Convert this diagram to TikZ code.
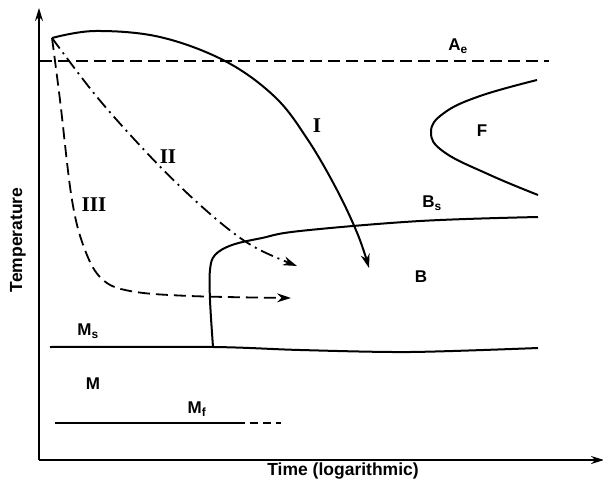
\documentclass[tikz,border=0pt]{standalone}
\usepackage{fontspec}
\setmainfont{Liberation Sans}
\newfontfamily\numfont{Liberation Serif}
\usetikzlibrary{arrows.meta}
\begin{document}
\begin{tikzpicture}[x=1pt,y=-1pt,
  curve/.style={line width=2pt,line join=round},
  dashcurve/.style={line width=1.8pt,dash pattern=on 12pt off 6pt},
  dashdotcurve/.style={line width=1.8pt,dash pattern=on 13pt off 5pt on 2pt off 5pt},
  tip/.style={-{Stealth[length=14pt,width=9pt]}},
  lab/.style={font=\bfseries\fontsize{17}{19}\selectfont},
  axlab/.style={font=\bfseries\fontsize{17.5}{19}\selectfont},
  rom/.style={font=\numfont\bfseries\fontsize{21}{23}\selectfont}]
\useasboundingbox (0,0) rectangle (603,485);
% axes
\coordinate (O) at (39,460);
\coordinate (Ytop) at (39,8);
\coordinate (Xend) at (604,460);
\draw[line width=1.8pt,-{Stealth[length=13pt,width=8pt]}] (O) -- (Ytop);
\draw[line width=1.8pt,-{Stealth[length=13pt,width=8pt]}] (O) -- (Xend);
\node[axlab,rotate=90] (tlab) at (18,240) {Temperature};
\node[axlab] (xlab) at (343,471) {Time (logarithmic)};
% Ae
\coordinate (Ae1) at (40,61);
\coordinate (Ae2) at (549,61);
\draw[dashcurve] (Ae1) -- (Ae2);
\node[lab] (Ae) at (458,46) {A\textsubscript{e}};
% start point
\coordinate (S) at (52,38);
% curve I
\draw[curve,tip] plot[smooth,tension=0.6] coordinates {(52,38) (95,31) (160,37) (225,61) (275,97) (308,140) (337,190) (358,235) (369,268)};
\node[rom] (I) at (317,126) {I};
% curve II
\draw[dashdotcurve,tip] plot[smooth,tension=0.6] coordinates {(52,38) (97,97) (147,153) (187,193) (227,228) (258,249) (297,266)};
\node[rom] (II) at (168,157) {II};
% curve III
\draw[dashcurve,tip] plot[smooth,tension=0.6] coordinates {(52,38) (60,100) (72,200) (85,250) (102,279) (130,291) (190,296) (291,298)};
\node[rom] (III) at (94,205) {III};
% F curve
\draw[curve] plot[smooth,tension=0.7] coordinates {(537,80) (480,96) (444,113) (431,132) (444,152) (490,175) (538,195)};
\node[lab] (F) at (482,131) {F};
% Bs curve
\draw[curve] plot[smooth,tension=0.6] coordinates {(213,347) (210,300) (210,270) (215,255) (232,245) (262,238) (300,231) (420,221) (538,217)};
\node[lab] (Bs) at (432,203) {B\textsubscript{s}};
\node[lab] (B) at (421,277) {B};
% Ms line
\draw[curve] plot[smooth,tension=0.5] coordinates {(50,347) (213,347) (300,350) (410,352) (538,348)};
\node[lab] (Ms) at (88,331) {M\textsubscript{s}};
\node[lab] (M) at (93,384) {M};
% Mf line
\coordinate (Mf1) at (55,423);
\coordinate (Mf2) at (237,423);
\coordinate (Mf3) at (281,423);
\draw[curve] (Mf1) -- (Mf2);
\draw[line width=1.8pt,dash pattern=on 8pt off 5pt] (Mf2) -- (Mf3);
\node[lab] (Mf) at (197,409) {M\textsubscript{f}};
\end{tikzpicture}
\end{document}
